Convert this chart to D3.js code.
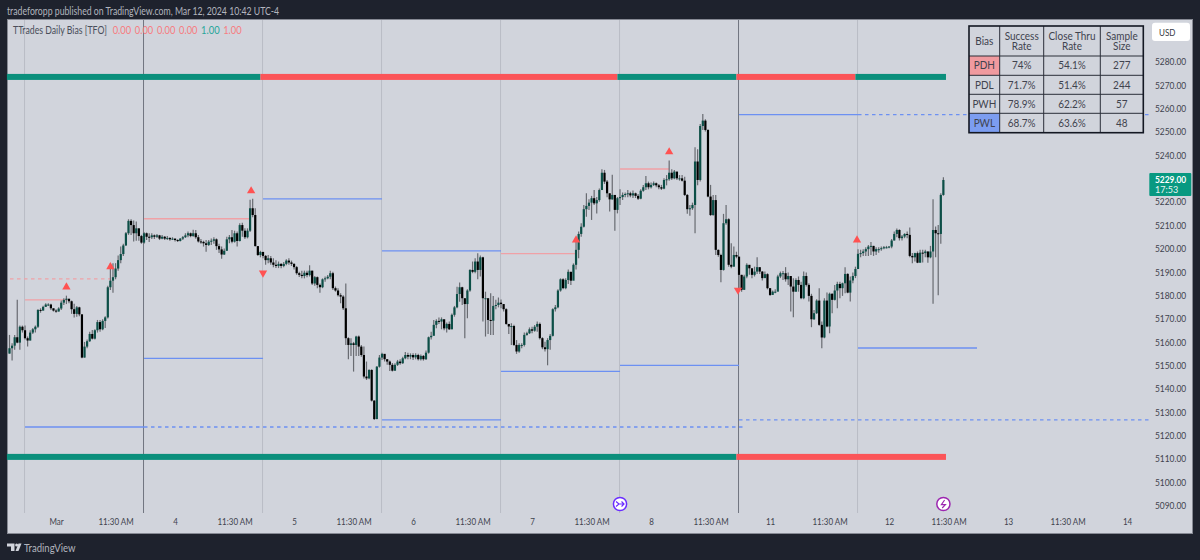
<!DOCTYPE html>
<html><head><meta charset="utf-8">
<style>
html,body{margin:0;padding:0;background:#1e222d;}
svg{display:block;font-family:Lato,sans-serif;}
</style>
<script src="https://cdn.jsdelivr.net/npm/d3@7"></script>
</head><body><svg id="c" width="1200" height="560"></svg>
<script>
const closes=[
5157.3,5158.4,5162,5159.7,5166.5,5165,5161.6,5160.6,5164,5165.4,
5166.5,5173.7,5173.4,5175,5176,5176,5174.4,5173.4,5173,5174.3,
5176.8,5178,5178.5,5177.4,5174,5172,5174.8,5171.8,5153.3,5158,
5160.3,5163.4,5161.4,5165,5168.5,5165.4,5169,5170.5,5183.4,5186.2,
5187.7,5191.4,5195,5197.6,5201.3,5206.5,5211.8,5210,5206.5,5208.6,
5205.3,5202.5,5206.5,5205,5204.8,5205.6,5205,5205.6,5204.2,5205,
5204.2,5204.5,5203.9,5204.2,5203.6,5203.2,5204.2,5204.8,5205.6,5206.5,
5205.3,5206.5,5204.8,5203,5202.8,5202.2,5201.5,5202.9,5203.3,5203.9,
5201,5199.6,5197.4,5199,5203.9,5204.8,5202.9,5206.5,5203.2,5210,
5207.6,5204.8,5207.6,5217.2,5214.3,5201,5197.2,5198.5,5196.8,5195,
5195.8,5194,5193,5192.5,5193.4,5192.5,5193.4,5194.8,5194,5193.4,
5192,5189.4,5188.7,5188.2,5189.6,5188.6,5190.5,5185,5187.7,5184.4,
5183.4,5186.8,5187.2,5187.9,5189.4,5183,5182,5180,5179.4,5174.4,
5161.6,5158.7,5159.4,5158.7,5162.3,5158,5154.4,5145.2,5144.4,5148,
5134.9,5127,5149.4,5153.3,5154.9,5152.6,5151.6,5150.2,5147.7,5150.2,
5151.6,5150.9,5153,5154.4,5153.7,5154.4,5153.4,5154.4,5152.6,5154,
5152.6,5155.4,5162,5162.6,5167.3,5169,5168.7,5169.7,5165.8,5167.7,
5165.4,5171.6,5174.8,5180.5,5183.4,5178.7,5176.2,5182,5190.8,5190,
5194.4,5190.8,5196.2,5178.7,5178.7,5169.4,5169.1,5175.4,5175.8,5176.8,
5176.2,5174,5167.7,5166.6,5166.8,5158.7,5155.9,5158.7,5158.7,5163,
5163.7,5165.4,5164.8,5166.5,5167.7,5161.6,5157.7,5156.9,5160.8,5162.6,
5174,5174.8,5182,5186.8,5183,5186.5,5190,5186.2,5193,5199.4,
5206.2,5209.3,5216.8,5218.2,5219.6,5221.5,5219.3,5220.7,5225,5232.4,
5228.6,5223.6,5221,5222.9,5216.5,5221.5,5222,5222.9,5223.3,5223.6,
5222.7,5223.6,5222.5,5221.3,5224.7,5226.2,5227.9,5226.2,5227.2,5227.9,
5227,5226.2,5225.6,5229.3,5229.6,5232.4,5230,5232.9,5230,5230,
5229,5222.9,5216.8,5217.2,5218.6,5237.2,5229.3,5252.4,5254.7,5250.7,
5222.2,5214.3,5220.7,5199.4,5197.2,5190.8,5210.8,5212.5,5193,5192.2,
5197.2,5196.5,5188.7,5182.3,5188,5193,5191.5,5188.7,5190.1,5192,
5190.1,5187.3,5189,5183,5180.1,5181.5,5181.5,5188,5189.4,5189.4,
5186.8,5188.2,5183.7,5181.5,5186.5,5184.4,5178.7,5188.2,5184.4,5179.7,
5169.7,5172.3,5177.7,5167.3,5161.9,5177.7,5166.6,5180.6,5178,5182,
5184.8,5183,5185.1,5189.1,5181.1,5186.3,5188.2,5191.2,5197.7,5198,
5198.7,5199.7,5200.8,5201.1,5198.7,5199.7,5199.7,5200.1,5200.5,5200.5,
5200.8,5203.4,5206.2,5207.9,5204.4,5205.1,5206.2,5205.8,5196.8,5196.2,
5198,5193.9,5198.2,5198,5198.7,5196.2,5198.7,5207.9,5206.5,5206.2,5222.9,5229.3];
const highs=[
5163,5159.4,5163,5178,5167,5167,5167,5162.3,5165,5166,
5167,5174,5174.4,5175.5,5176.5,5176.5,5176.3,5174.3,5174,5174.8,
5177.7,5178.7,5179.8,5178.2,5177.7,5176.3,5175.4,5175,5171.8,5160,
5161,5164.4,5165.1,5165.4,5169.4,5169.4,5169.7,5171,5184,5193.7,
5193.7,5193.7,5197,5200.8,5202,5207,5212.5,5212.5,5212,5211.5,
5208.6,5205.8,5207,5206.8,5206.5,5206.5,5206,5206.2,5205.8,5205.8,
5205.3,5205.3,5204.8,5204.8,5204.3,5203.9,5204.5,5205.3,5206.5,5207.2,
5206.8,5208,5207.9,5205.8,5204,5203.3,5203.6,5203.6,5204.3,5204.8,
5204.3,5202,5200.8,5200,5205,5205.8,5207.9,5207.6,5207.2,5210.8,
5211,5208.6,5208.6,5220.8,5221.3,5217.2,5201,5199,5198.6,5197.2,
5197.2,5196.8,5195.8,5195,5194.4,5193.7,5194.2,5195.4,5195.8,5194.8,
5193.7,5192.5,5190,5190.5,5190.5,5190.5,5192.8,5190.5,5188.2,5188,
5185,5187.2,5188,5188.6,5190.5,5190,5183.7,5183,5180.8,5180,
5185,5162,5161.6,5160,5162.6,5162.8,5158.7,5158,5151.6,5148.3,
5148.3,5135,5149.7,5154.4,5155.4,5154.4,5152.6,5152,5151,5150.9,
5152.3,5152.6,5153.7,5155.7,5155.4,5155.1,5155.1,5155.1,5154.9,5154.6,
5154.4,5156.3,5162.3,5164.4,5169.4,5169.7,5170.5,5170.5,5169.4,5168.3,
5168.7,5172.2,5175.4,5183.6,5185.4,5183.6,5178.7,5182.5,5191.1,5194.4,
5195.8,5197.9,5197,5196.5,5181.5,5178.7,5180.8,5179.7,5178,5179,
5178.2,5176.2,5174.4,5167.7,5168,5167.3,5160.8,5159.4,5159.4,5164,
5164.4,5166.2,5166.5,5167.2,5168.7,5168.3,5162,5160.1,5161.6,5163.4,
5174.4,5175.8,5182.5,5187.2,5187.2,5187.2,5191,5190,5193.6,5204.3,
5207.2,5210.8,5218.6,5223.6,5221,5222.5,5225,5222,5225.7,5233.9,
5233.6,5229.3,5223.6,5231.5,5222.9,5222,5225.3,5223.9,5223.9,5225,
5224.3,5224.8,5223.9,5223.3,5225.3,5227.2,5231,5228.6,5228.2,5228.6,
5228.2,5227.6,5227.2,5230,5231.4,5237.6,5233.9,5233.6,5231.4,5231.4,
5231.4,5230.7,5223.3,5218.6,5219.6,5243.3,5242.4,5253.3,5257.5,5255.3,
5251,5227.2,5222.9,5222.9,5199.6,5197.7,5214.8,5218.6,5212.9,5202.2,
5200.8,5198.6,5196.2,5188.7,5188.7,5193.7,5192.5,5191.5,5192.2,5196.2,
5191.5,5190.4,5190.1,5189.4,5183,5182,5182.5,5188.7,5190.1,5190.4,
5192,5189.7,5188,5187.3,5187.3,5188,5185.8,5190.1,5189.7,5185.1,
5180.6,5173.7,5178.3,5183,5168.7,5178.7,5181.1,5181.1,5180.8,5184.4,
5185.8,5185.8,5185.4,5192,5189.4,5188,5189.7,5192.2,5199.7,5199.4,
5199.7,5200.5,5201.5,5202.8,5201.1,5200.5,5200.5,5200.8,5201.1,5201.1,
5201.1,5204,5207.2,5208.5,5208.2,5205.8,5206.5,5207.2,5209,5198,
5198.2,5198.7,5199.4,5199.4,5199.4,5198.7,5201.1,5221,5209.4,5210,5223.6,5230.5];
const lows=[
5155,5152,5156.6,5159.4,5156.6,5164,5161,5158,5160.6,5163.4,
5164,5166,5172.5,5173.4,5175,5175.4,5173.7,5173,5172.5,5173,
5173.7,5175.8,5176.2,5176.5,5172,5170.5,5170.8,5171,5153,5153.3,
5157.3,5160,5161,5161,5164,5164.4,5165,5166,5170,5182.2,
5181,5186.8,5190.5,5193.7,5196.8,5201,5205.8,5205.8,5203,5203.3,
5203.3,5202,5202,5203.6,5202.8,5204,5204,5204.5,5203.6,5203.9,
5203.6,5203.6,5203.3,5203.6,5203,5202.8,5203,5203.6,5204.5,5204.8,
5204.8,5205,5204.2,5202.5,5202,5200.8,5198.6,5201,5201.5,5202,
5199.4,5198,5195.6,5197.2,5199,5202.2,5202.2,5202.5,5200.8,5203,
5205,5204,5204.3,5207,5213.3,5200.8,5196.8,5196.2,5195.8,5193,
5193.7,5193,5192,5191.6,5191.6,5191.5,5192,5192.8,5193,5192.5,
5191,5188.7,5187.8,5187.2,5187.2,5187.7,5188,5184.4,5184,5183,
5181,5183,5185.8,5186.8,5186.8,5182.2,5181.5,5179.4,5176.5,5173.7,
5158.7,5152.6,5154,5147.3,5154,5154,5153.7,5144.4,5143.7,5144,
5134.5,5126.6,5126.9,5149,5152.3,5151.6,5150.2,5147.6,5147.3,5147.7,
5149.7,5150.2,5150.6,5152.6,5152.6,5152.6,5152.3,5152.6,5152,5152,
5152,5152.3,5155,5161,5163,5165.8,5167.7,5165.4,5165,5164,
5165.1,5165.4,5170.8,5174.4,5177.2,5175.8,5161.6,5170.1,5181.5,5189.4,
5189.4,5186.8,5188,5168.7,5162.3,5163.4,5163,5163,5174,5174.8,
5174.4,5173,5167.3,5163.4,5158.7,5158.3,5154.9,5155.4,5157.3,5158,
5162.6,5163.4,5163.7,5164.4,5164.4,5161,5156.9,5155.9,5150,5156.6,
5162.3,5173,5174.4,5181.5,5182.5,5182.5,5184.8,5184.4,5186.8,5191,
5195.8,5205,5209,5213.6,5216.5,5212.2,5218.6,5215,5220,5225,
5227.6,5221.9,5215.8,5220.8,5207.6,5215,5218.6,5220.7,5221.9,5221.9,
5221.9,5221.6,5221.6,5220.7,5221,5224.3,5225,5225.3,5225.7,5226.7,
5226.2,5225.3,5225,5225.3,5227,5229,5229.3,5229.6,5229.3,5229,
5228.6,5222.4,5214.8,5214,5216.5,5206.5,5227,5228.6,5250.7,5250,
5221.9,5213.9,5214,5197.2,5196.5,5185.5,5190.5,5210.1,5192.2,5191.5,
5192.3,5195.8,5183,5181.5,5182.2,5187.3,5188.7,5187.3,5188,5189.1,
5189.1,5186.3,5187.7,5182.5,5179.7,5180.6,5180.8,5182.5,5187.3,5186.5,
5185.8,5184.4,5173,5170.6,5181.5,5181.5,5178.3,5178.3,5183.7,5177.3,
5166.3,5169.4,5172,5166.9,5157.3,5161.6,5166.3,5163.7,5172.3,5177.7,
5174.4,5178.7,5179.7,5180.8,5180.8,5177.3,5185.1,5187.3,5191.5,5196.2,
5196.8,5196.8,5196.8,5197.2,5196.8,5197.2,5198.2,5199,5199.7,5200,
5200.1,5200.1,5203.4,5204.8,5203.4,5203.4,5204.4,5204.4,5196.2,5193.7,
5194.4,5193.7,5194,5194,5196.2,5193.9,5195.8,5176.3,5196.2,5180,5202,5222.5];

const firstOpen=5155;
const priceTicks=[5280,5270,5260,5250,5240,5220,5210,5200,5190,5180,5170,5160,5150,5140,5130,5120,5110,5100,5090];
const timeLabels=["Mar","11:30 AM","4","11:30 AM","5","11:30 AM","6","11:30 AM","7","11:30 AM","8","11:30 AM","11","11:30 AM","12","11:30 AM","13","11:30 AM","14"];
const timeTickIdx=timeLabels.map((_,k)=>18+23*k);
const daySeps=[6,52,98,144,190,236,282,328];
const weekSeps=[52,282];
const biasTop=[[-1,97,1],[97,235,0],[235,281,1],[281,327,0],[327,362,1]];
const biasBottom=[[-1,281,1],[281,362,0]];
const pdhLevels=[[0.2,39,5187,true],[6,22.5,5178,false],[52,93,5212.7,false],[190,219,5197.8,false],[236,255,5234,false]];
const pwlLevels=[[6,52,5123.6,false],[52,283.5,5123.6,true],[52,98,5153,false],[98,144,5221.2,false],[144,190,5126.6,false],[144,190,5199,false],[190,236,5147.4,false],[236,282,5150,false],[282,328,5257.3,false],[328,441,5257.3,true],[282,441,5126.6,true],[328,374,5157.4,false]];
const upMarks=[[22,5183.5],[39,5192.1],[93.4,5224.6],[219,5203.6],[255,5241.3],[327.6,5203.6]];
const downMarks=[[98,5189.5],[281.6,5182.2]];
const legendValues=["0.00","0.00","0.00","0.00","1.00","1.00"];
const tableHeader=[["Bias"],["Success","Rate"],["Close Thru","Rate"],["Sample","Size"]];
const tableRows=[["PDH","74%","54.1%","277"],["PDL","71.7%","51.4%","244"],["PWH","78.9%","62.2%","57"],["PWL","68.7%","63.6%","48"]];

const x=d3.scaleLinear().domain([0,361]).range([9.5,9.5+361*119/46]);
const y=d3.scaleLinear().domain([5280,5090]).range([61.5,505.5]);
const svg=d3.select("#c");
const TEAL="#0b8f7c",RED="#fb5458",BLUE="#6c90f2",PINK="#f0a1a6",INK="#3f434e";

// the reference's UI face runs narrower than any installed font: condense labels to its widths
function condense(sel,k){
 sel.each(function(){
  const w=this.getComputedTextLength();
  d3.select(this).attr("textLength",w*k).attr("lengthAdjust","spacingAndGlyphs");
 });
}

svg.append("rect").attr("width",1200).attr("height",560).attr("fill","#1e222d");
svg.append("rect").attr("x",7.5).attr("y",19.5).attr("width",1185).attr("height",514).attr("fill","#d1d4dc").attr("stroke","#868993");

svg.append("text").attr("x",7).attr("y",15).attr("fill","#b2b5be").attr("font-size",10.7).text("tradeforopp published on TradingView.com, Mar 12, 2024 10:42 UTC-4").call(condense,.815);

// session separators
svg.append("g").selectAll("line").data(daySeps).join("line")
 .attr("x1",d=>x(d)-0.5).attr("x2",d=>x(d)-0.5).attr("y1",20).attr("y2",513)
 .attr("stroke",d=>weekSeps.includes(d)?"#70747f":"#b9bcc6").attr("stroke-width",1);

// bias bars
[[biasTop,5273.4],[biasBottom,5110.8]].forEach(([segs,p])=>{
 svg.append("g").selectAll("rect").data(segs).join("rect")
  .attr("x",d=>x(d[0])).attr("width",d=>x(d[1])-x(d[0]))
  .attr("y",y(p)-3).attr("height",6)
  .attr("fill",d=>d[2]?TEAL:RED);
});

// levels
function levels(data,color){
 svg.append("g").selectAll("line").data(data).join("line")
  .attr("x1",d=>x(d[0])).attr("x2",d=>x(d[1]))
  .attr("y1",d=>y(d[2])).attr("y2",d=>y(d[2]))
  .attr("stroke",color).attr("stroke-width",1.3)
  .attr("stroke-dasharray",d=>d[3]?"3.5 3.5":null);
}
levels(pdhLevels,PINK);
levels(pwlLevels,BLUE);

// candles
const bars=closes.map((c,i)=>({i,c,o:i?closes[i-1]:firstOpen,h:highs[i],l:lows[i]}));
svg.append("g").selectAll("line").data(bars).join("line")
 .attr("x1",d=>x(d.i)).attr("x2",d=>x(d.i))
 .attr("y1",d=>y(d.h)).attr("y2",d=>y(d.l))
 .attr("stroke","#686b71").attr("stroke-width",1.2);
svg.append("g").selectAll("rect").data(bars).join("rect")
 .attr("x",d=>x(d.i)-1.1).attr("width",2.2)
 .attr("y",d=>y(Math.max(d.o,d.c)))
 .attr("height",d=>Math.max(1,Math.abs(y(d.o)-y(d.c))))
 .attr("fill",d=>d.c>=d.o?"#0c4f47":"#000");

// triangles
const tri=d3.symbol().type(d3.symbolTriangle).size(30);
svg.append("g").selectAll("path").data(upMarks).join("path").attr("d",tri)
 .attr("transform",d=>`translate(${x(d[0])},${y(d[1])})`).attr("fill","#ff5252");
svg.append("g").selectAll("path").data(downMarks).join("path").attr("d",tri)
 .attr("transform",d=>`translate(${x(d[0])},${y(d[1])}) rotate(180)`).attr("fill","#ff5252");

// legend
svg.append("text").attr("x",13).attr("y",34).attr("fill","#4a4e5a").attr("font-size",10.5).text("TTrades Daily Bias [TFO]").call(condense,.83);
svg.append("g").selectAll("text").data(legendValues).join("text")
 .attr("x",(d,i)=>112.7+i*22.1).attr("y",34).attr("font-size",10.5)
 .attr("fill",(d,i)=>i===4?"#26a69a":"#f77c80").text(d=>d).call(condense,.89);

// axes
const yAxis=d3.axisRight(y).tickValues(priceTicks).tickSize(0).tickPadding(0).tickFormat(d=>d.toFixed(2));
const gy=svg.append("g").attr("transform","translate(1155,0)").call(yAxis);
gy.select(".domain").remove();
gy.selectAll("text").attr("font-family","Lato,sans-serif").attr("font-size",10).attr("fill",INK).call(condense,.84);
const xAxis=d3.axisBottom(x).tickValues(timeTickIdx).tickSize(0).tickPadding(0).tickFormat((d,i)=>timeLabels[i]);
const gx=svg.append("g").attr("transform","translate(0,518)").call(xAxis);
gx.select(".domain").remove();
gx.selectAll("text").attr("font-family","Lato,sans-serif").attr("font-size",10).attr("fill",INK).call(condense,.8);

// table
const colX=[969,999.7,1043.7,1100.3,1143.3], rowY=[26,56,75.3,94.3,113.3,132.7];
const tb=svg.append("g");
tb.append("rect").attr("x",colX[0]).attr("y",rowY[0]).attr("width",colX[4]-colX[0]).attr("height",rowY[5]-rowY[0]).attr("fill","#d1d4dc");
tb.append("rect").attr("x",colX[0]).attr("y",rowY[1]).attr("width",colX[1]-colX[0]).attr("height",rowY[2]-rowY[1]).attr("fill","#f09a9f");
tb.append("rect").attr("x",colX[0]).attr("y",rowY[4]).attr("width",colX[1]-colX[0]).attr("height",rowY[5]-rowY[4]).attr("fill","#7c9df0");
tb.append("g").selectAll("line").data(colX.slice(1,4)).join("line").attr("x1",d=>d).attr("x2",d=>d).attr("y1",rowY[0]).attr("y2",rowY[5]).attr("stroke","#2a2e39").attr("stroke-width",1);
tb.append("g").selectAll("line").data(rowY.slice(1,5)).join("line").attr("y1",d=>d).attr("y2",d=>d).attr("x1",colX[0]).attr("x2",colX[4]).attr("stroke","#2a2e39").attr("stroke-width",1);
tb.append("rect").attr("x",colX[0]).attr("y",rowY[0]).attr("width",colX[4]-colX[0]).attr("height",rowY[5]-rowY[0]).attr("fill","none").attr("stroke","#131722").attr("stroke-width",1.6);
const cx=i=>(colX[i]+colX[i+1])/2;
tableHeader.forEach((lines,i)=>{
 lines.forEach((t,j)=>{
  tb.append("text").attr("x",cx(i)).attr("y",lines.length===1?45:[39.5,50][j]).attr("text-anchor","middle").attr("font-size",10.5).attr("fill",INK).text(t);
 });
});
tableRows.forEach((r,ri)=>r.forEach((t,ci)=>{
 tb.append("text").attr("x",cx(ci)).attr("y",(rowY[ri+1]+rowY[ri+2])/2+3.8).attr("text-anchor","middle").attr("font-size",10.5).attr("fill",INK).text(t);
}));
tb.selectAll("text").call(condense,.95);

// USD button and last price
svg.append("rect").attr("x",1152).attr("y",22.7).attr("width",38).attr("height",18.3).attr("rx",3).attr("fill","#fff");
svg.append("text").attr("x",1159).attr("y",35.5).attr("font-size",9.5).attr("fill","#363a45").text("USD").call(condense,.85);
svg.append("rect").attr("x",1149.3).attr("y",y(closes[361])-7).attr("width",42).attr("height",23).attr("rx",1).attr("fill","#089981");
svg.append("text").attr("x",1155).attr("y",y(closes[361])+3.5).attr("font-size",10).attr("font-weight",700).attr("fill","#fff").text(closes[361].toFixed(0)+".00").call(condense,.84);
svg.append("text").attr("x",1155).attr("y",y(closes[361])+13.5).attr("font-size",10).attr("fill","#e8f5f2").text("17:53").call(condense,.9);

// event icons
function icon(i,color,glyph){
 const g=svg.append("g").attr("transform",`translate(${x(i)},504)`);
 g.append("circle").attr("r",6.6).attr("fill","#fff").attr("stroke",color).attr("stroke-width",1.5);
 g.append("path").attr("d",glyph).attr("fill","none").attr("stroke",color).attr("stroke-width",1.2);
}
icon(236,"#6a2cff","M-4,-2.5L-1,0L-4,2.5M-1,0H4M1.5,-2.5L4,0L1.5,2.5");
icon(361,"#9c27b0","M1.2,-4L-2,0.6H2L-1.2,4");

// logo + brand
const lg=svg.append("g").attr("fill","#d1d4dc");
lg.append("path").attr("d","M7,543.5H14.5V551H11V546.5H7Z");
lg.append("circle").attr("cx",16.6).attr("cy",545).attr("r",1.5);
lg.append("path").attr("d","M15.5,551L18.5,543.5H21.5L18.5,551Z");
svg.append("text").attr("x",24).attr("y",552).attr("font-size",11.5).attr("fill","#b2b5be").text("TradingView").call(condense,.83);
</script></body></html>
